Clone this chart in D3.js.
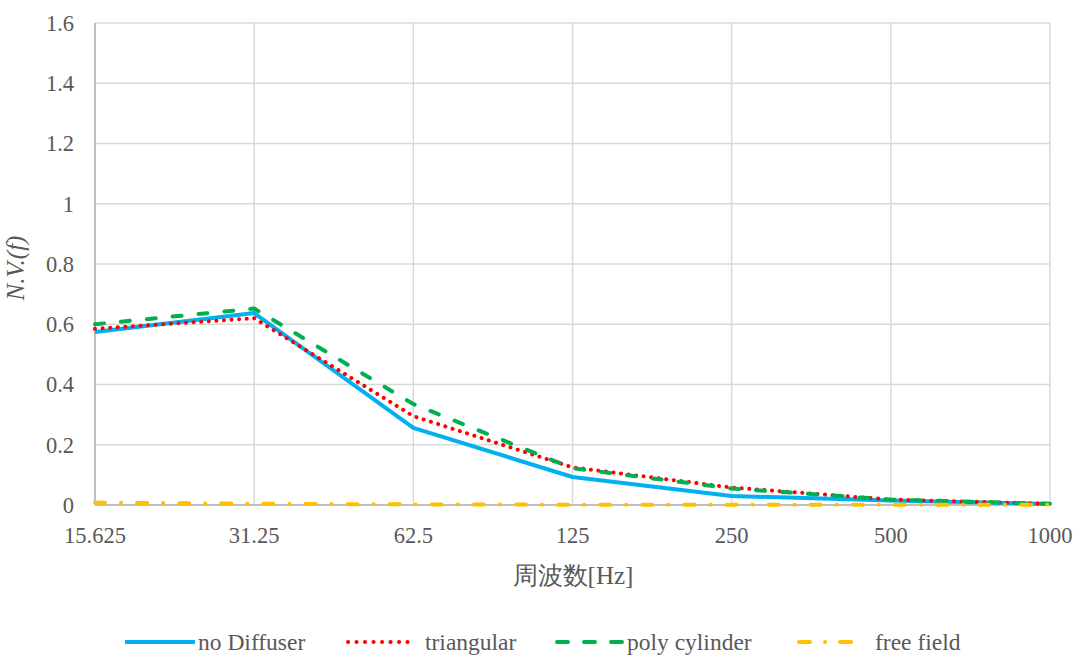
<!DOCTYPE html>
<html><head><meta charset="utf-8">
<script src="https://cdn.jsdelivr.net/npm/d3@7"></script>
<style>body{margin:0;background:#fff}svg{display:block}</style>
</head><body>
<svg id="c" width="1082" height="657"></svg>
<script>
const categories = ["15.625","31.25","62.5","125","250","500","1000"];
const noDiffuser = [0.574,0.637,0.256,0.093,0.030,0.015,0.003];
const triangular = [0.585,0.620,0.295,0.125,0.058,0.018,0.004];
const polyCylinder = [0.600,0.652,0.335,0.122,0.055,0.018,0.004];
const freeField = [0.008,0.004,0.002,0.001,0.001,0.001,0.001];
const yTicks = [0,0.2,0.4,0.6,0.8,1,1.2,1.4,1.6];
const seriesNames = ["no Diffuser","triangular","poly cylinder","free field"];

const svg = d3.select("#c");
const L=95,R=1050,T=23,B=505;
const x = d3.scalePoint().domain(categories).range([L,R]);
const y = d3.scaleLinear().domain([0,1.6]).range([B,T]);
const font = "Liberation Serif, Times New Roman, serif";
const tc = "#595959";

// grid
svg.append("g").selectAll("line").data(yTicks.slice(1)).join("line")
  .attr("x1",L).attr("x2",R).attr("y1",d=>y(d)).attr("y2",d=>y(d))
  .attr("stroke","#d9d9d9").attr("stroke-width",1.5);
svg.append("g").selectAll("line").data(categories.slice(1)).join("line")
  .attr("x1",d=>x(d)).attr("x2",d=>x(d)).attr("y1",T).attr("y2",B)
  .attr("stroke","#d9d9d9").attr("stroke-width",1.5);
// axis lines
svg.append("line").attr("x1",L).attr("x2",L).attr("y1",T).attr("y2",B).attr("stroke","#bfbfbf").attr("stroke-width",2);
svg.append("line").attr("x1",L).attr("x2",R).attr("y1",B).attr("y2",B).attr("stroke","#bfbfbf").attr("stroke-width",2);

// tick labels
svg.append("g").selectAll("text").data(yTicks).join("text")
  .attr("x",L-21).attr("y",d=>y(d)).attr("dy","0.35em").attr("text-anchor","end")
  .attr("font-family",font).attr("font-size",22.5).attr("fill",tc)
  .text(d=>d3.format("")(d));
svg.append("g").selectAll("text").data(categories).join("text")
  .attr("x",d=>x(d)).attr("y",543).attr("text-anchor","middle")
  .attr("font-family",font).attr("font-size",22.5).attr("fill",tc)
  .text(d=>d);

// axis titles
svg.append("text").attr("transform",`translate(24,268) rotate(-90)`)
  .attr("text-anchor","middle").attr("font-family",font).attr("font-size",25)
  .attr("font-style","italic").attr("fill",tc).text("N.V.(f)");
svg.append("text").attr("x",573).attr("y",584).attr("text-anchor","middle")
  .attr("font-family",font).attr("font-size",25).attr("fill",tc).text("周波数[Hz]");

const series = [
  {name:seriesNames[0],vals:noDiffuser,color:"#00b0f0",dash:null,cap:"butt",legDash:null,leg:[125,195,198]},
  {name:seriesNames[1],vals:triangular,color:"#ff0000",dash:"0.1 7.5",cap:"round",legDash:"0.1 8.4",leg:[348,415,425]},
  {name:seriesNames[2],vals:polyCylinder,color:"#00b050",dash:"9 17",cap:"round",legDash:"11 16",leg:[557,625,627]},
  {name:seriesNames[3],vals:freeField,color:"#ffc000",dash:"10 16 0.1 16",cap:"round",legDash:"11 15 0.1 15",leg:[799,856,875]}
];
const line = d3.line().x((d,i)=>x(categories[i])).y(d=>y(d));
series.forEach(s=>{
  svg.append("path").attr("d",line(s.vals)).attr("fill","none")
    .attr("stroke",s.color).attr("stroke-width",4)
    .attr("stroke-dasharray",s.dash).attr("stroke-linecap",s.cap).attr("stroke-linejoin","round");
});

// legend
const ly=642;
series.forEach(s=>{
  const [x1,x2,tx]=s.leg;
  svg.append("line").attr("x1",x1).attr("x2",x2).attr("y1",ly).attr("y2",ly)
    .attr("stroke",s.color).attr("stroke-width",4).attr("stroke-dasharray",s.legDash)
    .attr("stroke-linecap",s.cap);
  svg.append("text").attr("x",tx).attr("y",ly).attr("dy","0.35em")
    .attr("font-family",font).attr("font-size",23.5).attr("fill",tc).text(s.name);
});
</script>
</body></html>
